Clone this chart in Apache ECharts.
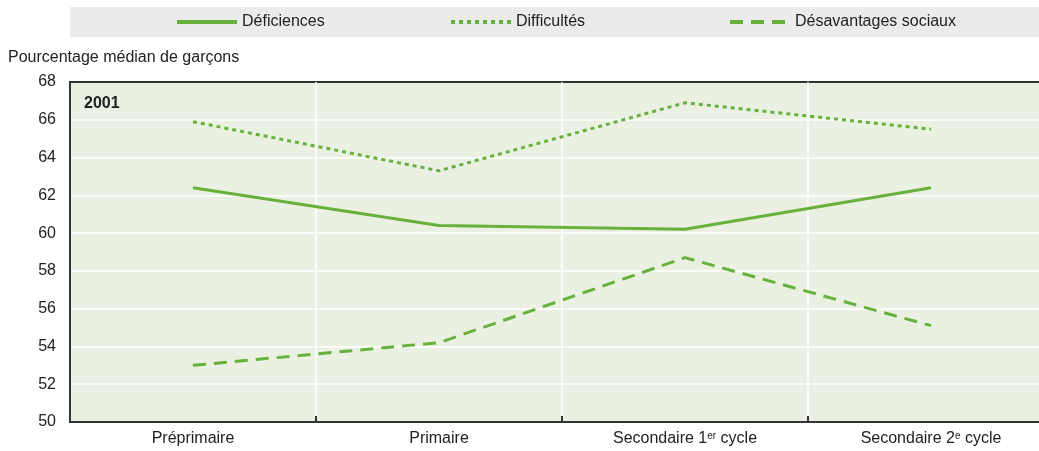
<!DOCTYPE html>
<html>
<head>
<meta charset="utf-8">
<script src="https://cdn.jsdelivr.net/npm/echarts@6/dist/echarts.min.js"></script>
<style>
  html, body { margin: 0; padding: 0; background: #fff; overflow: hidden; }
  #main { width: 1054px; height: 451px; }
</style>
</head>
<body>
<div id="main"></div>
<script>
var categories = ['Préprimaire', 'Primaire', 'Secondaire 1er cycle', 'Secondaire 2e cycle'];
var deficiences = [62.4, 60.4, 60.2, 62.4];
var difficultes = [65.9, 63.3, 66.9, 65.5];
var desavantages = [53.0, 54.2, 58.7, 55.1];
var yTicks = [50, 52, 54, 56, 58, 60, 62, 64, 66, 68];

var FONT = '"Liberation Sans", Arial, sans-serif';
var GREEN = '#67b23c';

// plot runs past the right edge of the window in the original, hence the wider div
var chart = echarts.init(document.getElementById('main'), null, { renderer: 'canvas' });

function legendAt(name, left) {
    return {
        data: [name],
        left: left,
        top: 14,
        itemWidth: 60,
        itemHeight: 14,
        padding: 0,
        itemStyle: { opacity: 0 },
        lineStyle: { width: 4 },
        textStyle: { fontFamily: FONT, fontSize: 16, color: '#222' }
    };
}

chart.setOption({
    animation: false,
    textStyle: { fontFamily: FONT },
    graphic: [
        { type: 'rect', left: 70, top: 7, shape: { width: 969, height: 30 }, style: { fill: '#ebebeb' }, z: -1 },
        { type: 'text', left: 8, top: 50, style: { text: 'Pourcentage médian de garçons', font: '16px ' + FONT, fill: '#222' } },
        { type: 'text', left: 84, top: 96, style: { text: '2001', font: 'bold 16px ' + FONT, fill: '#222' }, z: 10 }
    ],
    legend: [
        legendAt('Déficiences', 175),
        legendAt('Difficultés', 449),
        legendAt('Désavantages sociaux', 728)
    ],
    grid: {
        left: 70, right: 0, top: 82, bottom: 29,
        show: true,
        backgroundColor: '#eaf1e2',
        borderColor: '#333',
        borderWidth: 2
    },
    xAxis: {
        type: 'category',
        data: categories,
        boundaryGap: true,
        axisLine: { lineStyle: { color: '#333', width: 2 } },
        axisTick: { show: true, interval: 0, inside: true, length: 6, lineStyle: { color: '#333', width: 2 } },
        splitLine: { show: true, interval: 0, showMinLine: false, showMaxLine: false, lineStyle: { color: '#fff', width: 1.5 } },
        axisLabel: {
            interval: 0,
            color: '#222', fontSize: 16, fontFamily: FONT, margin: 9,
            formatter: function (v) { return v.replace(/ (\d)(er|e) /, ' $1{sup|$2} '); },
            rich: { sup: { fontSize: 10, verticalAlign: 'top', color: '#222', fontFamily: FONT, padding: [0, 0, 6, 0] } }
        }
    },
    yAxis: {
        type: 'value',
        min: yTicks[0],
        max: yTicks[yTicks.length - 1],
        interval: 2,
        axisLine: { show: true, lineStyle: { color: '#333', width: 2 } },
        axisTick: { show: false },
        splitLine: { show: true, showMinLine: false, showMaxLine: false, lineStyle: { color: '#fff', width: 1.5 } },
        axisLabel: { color: '#222', fontSize: 16, fontFamily: FONT, margin: 14 }
    },
    series: [
        {
            name: 'Déficiences', type: 'line', data: deficiences, symbol: 'none',
            itemStyle: { color: GREEN },
            lineStyle: { color: GREEN, width: 3, type: 'solid' }
        },
        {
            name: 'Difficultés', type: 'line', data: difficultes, symbol: 'none',
            itemStyle: { color: GREEN },
            lineStyle: { color: GREEN, width: 3, type: [4, 4] }
        },
        {
            name: 'Désavantages sociaux', type: 'line', data: desavantages, symbol: 'none',
            itemStyle: { color: GREEN },
            lineStyle: { color: GREEN, width: 3, type: [13, 8] }
        }
    ]
});
</script>
</body>
</html>
